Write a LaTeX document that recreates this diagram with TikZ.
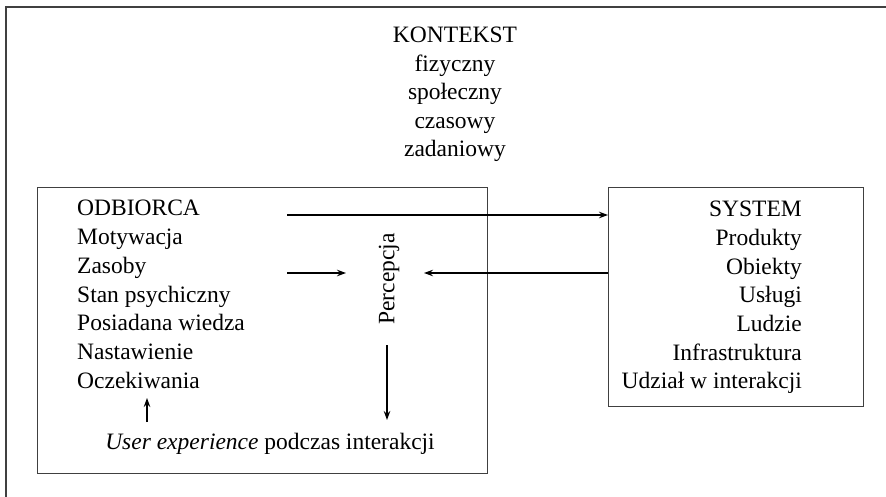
\documentclass[tikz,border=0pt]{standalone}
\usepackage{fontspec}
\setmainfont{Liberation Serif}
\usetikzlibrary{arrows.meta,positioning}
\tikzset{
  frame/.style={draw=black!75, line width=1.3pt},
  item/.style={inner sep=0pt},
  flow/.style={-{Stealth[length=9pt,width=6.5pt]}, line width=1.1pt},
}
\begin{document}
\begin{tikzpicture}[x=1pt,y=-1pt]
  \fontsize{23.5}{28.6}\selectfont
  \useasboundingbox (0,0) rectangle (886,497);
  % outer context frame, cut off by the page edge
  \draw[frame] (6,520) |- (900,7);
  \foreach \t [count=\i] in {KONTEKST,fizyczny,społeczny,czasowy,zadaniowy}
    \node[item, anchor=base] (k\i) at (455,{43+(\i-1)*28.5}) {\t};
  % user box
  \node[frame, minimum width=450pt, minimum height=286pt, anchor=north west]
    (userbox) at (37,187) {};
  \foreach \t [count=\i] in {ODBIORCA,Motywacja,Zasoby,Stan psychiczny,
      Posiadana wiedza,Nastawienie,Oczekiwania}
    \node[item, anchor=base west] (o\i) at (77,{216+(\i-1)*28.7}) {\t};
  \node[item, anchor=base] (ux) at (270,449)
    {\textit{User experience} podczas interakcji};
  \node[item, rotate=90] (perc) at (389,279) {Percepcja};
  % system box
  \node[frame, minimum width=255pt, minimum height=219pt, anchor=north west]
    (sysbox) at (608,187) {};
  \foreach \t [count=\i] in {SYSTEM,Produkty,Obiekty,Usługi,Ludzie,
      Infrastruktura,Udział w interakcji}
    \node[item, anchor=base east] (s\i) at (802,{217+(\i-1)*28.6}) {\t};
  % connectors
  \coordinate (a1) at (287,215);
  \coordinate (a2) at (287,273);
  \coordinate (a3) at (346,273);
  \coordinate (a4) at (424,273);
  \coordinate (a5) at (387,345);
  \coordinate (a6) at (387,420);
  \coordinate (a7) at (147,422);
  \coordinate (a8) at (147,398);
  \draw[flow] (a1) -- (a1 -| sysbox.west);
  \draw[flow] (a2) -- (a3);
  \draw[flow] (a4 -| sysbox.west) -- (a4);
  \draw[flow] (a5) -- (a6);
  \draw[flow] (a7) -- (a8);
\end{tikzpicture}
\end{document}
